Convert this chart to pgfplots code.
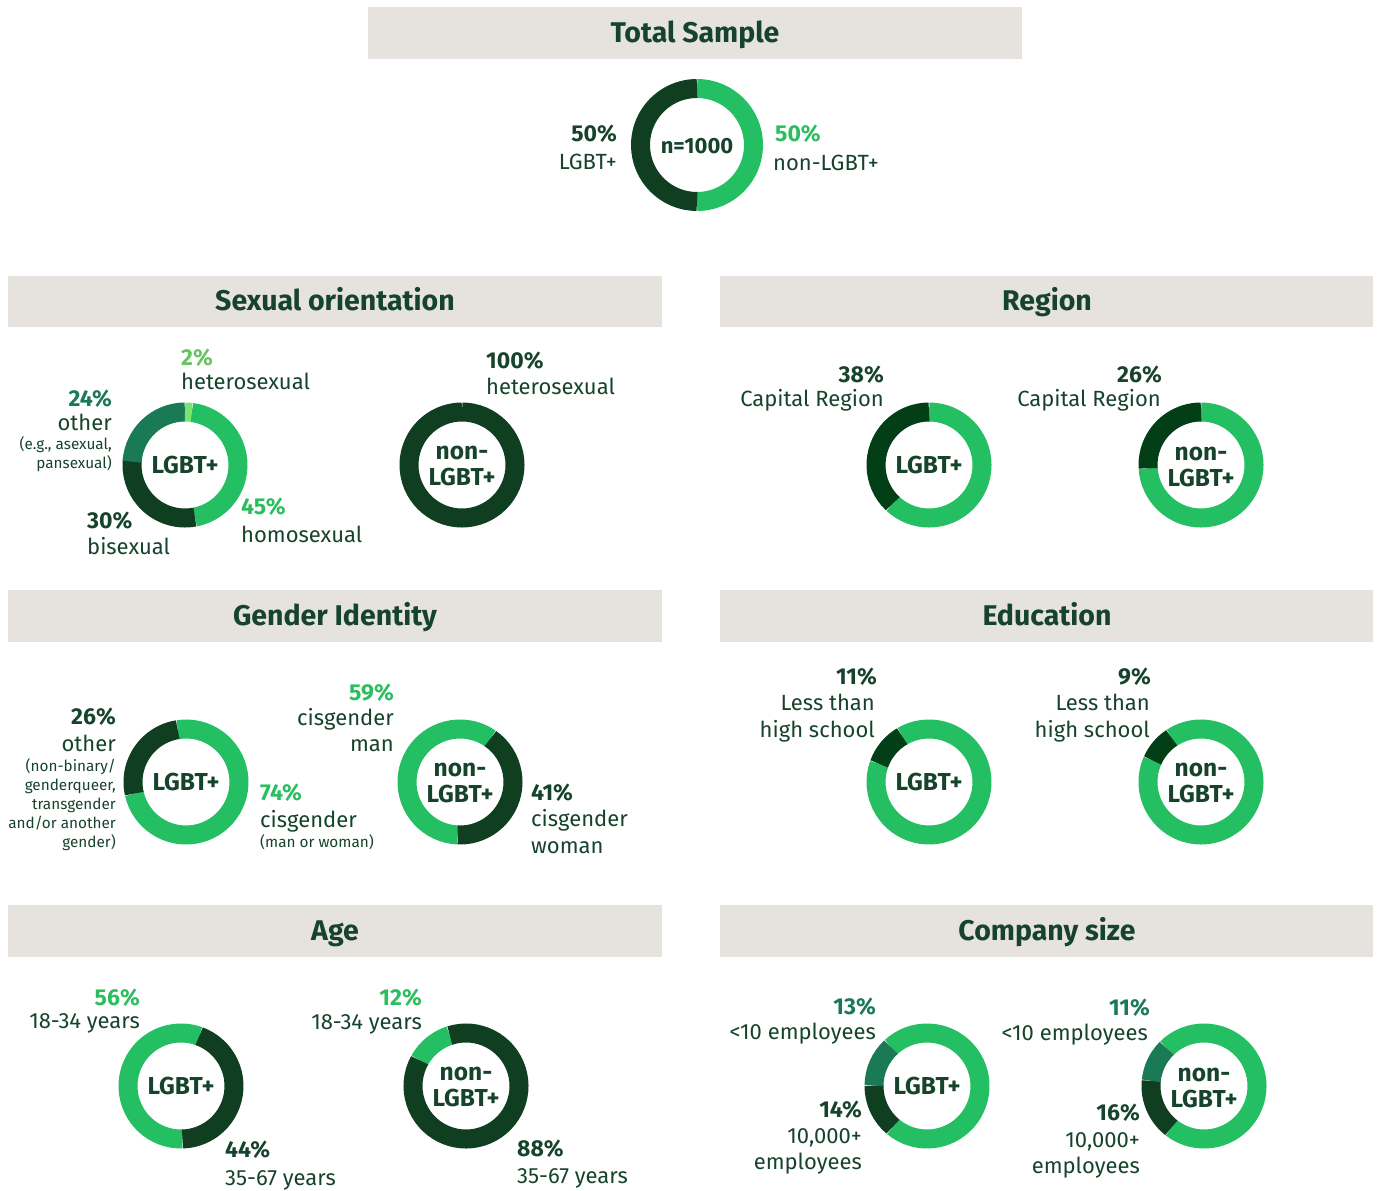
\documentclass[border=0pt]{standalone}
\usepackage{pgfplots}
\pgfplotsset{compat=1.18}
\usepackage{pgfplotstable}
\usepackage{fontspec}
\setmainfont{Fira Sans}

\definecolor{cLight}{HTML}{24BF62}
\definecolor{cDark}{HTML}{103E20}
\definecolor{cDarker}{HTML}{023E16}
\definecolor{cTeal}{HTML}{1A7A56}
\definecolor{cLime}{HTML}{78E66E}
\definecolor{cText}{HTML}{16432B}
\definecolor{cTLight}{HTML}{2BBE5F}
\definecolor{cHdr}{HTML}{E6E3DE}

% donut segment mark: start angle (clockwise from 12 o'clock) and percentage
\pgfdeclareplotmark{seg}{%
  \pgfmathsetmacro\segA{90-\segS}%
  \pgfmathsetmacro\segB{90-\segS-3.6*\segP}%
  \pgfpathmoveto{\pgfpointpolar{\segA}{\segR pt}}%
  \pgfpatharc{\segA}{\segB}{\segR pt}%
  \pgfusepathqstroke
}

% x y radius start percent
\pgfplotstableread{
x y r s p
697 145 56.5 0 50
185 465 53 7.2 45
929 465 53 0 62
1201 465 53 0 74
186 782 53 -9 74
460 782 53 182.6 59
929 782 53 329.6 89
1201 782 53 326.4 91
181 1086 53 178.4 56
466 1086 53 299 12
927 1086 53 317.2 73
1204 1086 53 315.2 73
}\tLight

\pgfplotstableread{
x y r s p
697 145 56.5 180 50
185 465 53 169.2 30
462 465 53 0 100
186 782 53 257.4 26
460 782 53 35 41
181 1086 53 20 44
466 1086 53 342.2 88
927 1086 53 220 14
1204 1086 53 218 16
}\tDark

\pgfplotstableread{
x y r s p
929 465 53 223.2 38
1201 465 53 266.4 26
929 782 53 290 11
1201 782 53 294 9
}\tDarker

\pgfplotstableread{
x y r s p
185 465 53 273.6 24
927 1086 53 270.4 13
1204 1086 53 275.6 11
}\tTeal

\pgfplotstableread{
x y r s p
185 465 53 0 2
}\tLime

\tikzset{
  hd/.style={font=\fontsize{28.5}{31}\selectfont\bfseries, text=cText, inner sep=0pt, yshift=-7pt},
  pc/.style={font=\fontsize{23}{26}\selectfont\bfseries, inner sep=0pt, yshift=-6pt},
  lb/.style={font=\fontsize{22}{25}\selectfont, text=cText, inner sep=0pt, yshift=-6pt},
  sm/.style={font=\fontsize{15.3}{18}\selectfont, text=cText, inner sep=0pt, yshift=-4pt},
  ct/.style={font=\fontsize{24.5}{27}\selectfont\bfseries, text=cText, inner sep=0pt, yshift=-6pt},
  R/.style={anchor=mid east},
  L/.style={anchor=mid west},
  C/.style={anchor=mid},
}

\pgfplotsset{
  donut/.style={only marks, mark=seg, mark options={line width=19pt, line cap=butt},
    visualization depends on={\thisrow{r}\as\segR},
    visualization depends on={\thisrow{s}\as\segS},
    visualization depends on={\thisrow{p}\as\segP}},
}

\begin{document}
\begin{tikzpicture}
\begin{axis}[width=1380pt, height=1189pt, scale only axis,
  xmin=0, xmax=1380, ymin=0, ymax=1189, y dir=reverse,
  hide axis, clip=false]

\path (axis cs:0,0) rectangle (axis cs:1380,1189);

% header bands
\fill[cHdr] (axis cs:368,7) rectangle (axis cs:1022,59);
\fill[cHdr] (axis cs:8,276) rectangle (axis cs:662,327);
\fill[cHdr] (axis cs:720,276) rectangle (axis cs:1373,327);
\fill[cHdr] (axis cs:8,590) rectangle (axis cs:662,642);
\fill[cHdr] (axis cs:720,590) rectangle (axis cs:1373,642);
\fill[cHdr] (axis cs:8,905) rectangle (axis cs:662,957);
\fill[cHdr] (axis cs:720,905) rectangle (axis cs:1373,957);

\addplot[donut, color=cLight] table[x=x,y=y] {\tLight};
\addplot[donut, color=cDark] table[x=x,y=y] {\tDark};
\addplot[donut, color=cDarker] table[x=x,y=y] {\tDarker};
\addplot[donut, color=cTeal] table[x=x,y=y] {\tTeal};
\addplot[donut, color=cLime] table[x=x,y=y] {\tLime};

% headers
\node[hd,C] at (axis cs:695,33) {Total Sample};
\node[hd,C] at (axis cs:335,301) {Sexual orientation};
\node[hd,C] at (axis cs:1047,301) {Region};
\node[hd,C] at (axis cs:335,616) {Gender Identity};
\node[hd,C] at (axis cs:1047,616) {Education};
\node[hd,C] at (axis cs:335,931) {Age};
\node[hd,C] at (axis cs:1047,931) {Company size};

% total sample
\node[ct,C,font=\fontsize{22}{25}\selectfont\bfseries] at (axis cs:697,145) {n=1000};
\node[pc,R,text=cText] at (axis cs:617,133) {50\%};
\node[lb,R] at (axis cs:617,161) {LGBT+};
\node[pc,L,text=cTLight] at (axis cs:775,133) {50\%};
\node[lb,L] at (axis cs:773,162) {non-LGBT+};

% sexual orientation
\node[ct,C] at (axis cs:185,465) {LGBT+};
\node[pc,L,text=cLime!85!black] at (axis cs:181,357) {2\%};
\node[lb,L] at (axis cs:181,381) {heterosexual};
\node[pc,R,text=cTeal] at (axis cs:112,398) {24\%};
\node[lb,R] at (axis cs:112,422) {other};
\node[sm,R] at (axis cs:112,443) {(e.g., asexual,};
\node[sm,R] at (axis cs:112,462) {pansexual)};
\node[pc,L,text=cTLight] at (axis cs:241,506) {45\%};
\node[lb,L] at (axis cs:241,534) {homosexual};
\node[pc,L,text=cText] at (axis cs:87,520) {30\%};
\node[lb,L] at (axis cs:87,546) {bisexual};
\node[ct,C] at (axis cs:462,451) {non-};
\node[ct,C] at (axis cs:462,477) {LGBT+};
\node[pc,L,text=cText] at (axis cs:486,360) {100\%};
\node[lb,L] at (axis cs:486,386) {heterosexual};

% region
\node[ct,C] at (axis cs:929,465) {LGBT+};
\node[ct,C] at (axis cs:1201,452) {non-};
\node[ct,C] at (axis cs:1201,478) {LGBT+};
\node[pc,R,text=cText] at (axis cs:884,374) {38\%};
\node[lb,R] at (axis cs:884,398) {Capital Region};
\node[pc,R,text=cText] at (axis cs:1162,374) {26\%};
\node[lb,R] at (axis cs:1161,398) {Capital Region};

% gender identity
\node[ct,C] at (axis cs:186,782) {LGBT+};
\node[ct,C] at (axis cs:460,768) {non-};
\node[ct,C] at (axis cs:460,794) {LGBT+};
\node[pc,R,text=cText] at (axis cs:116,716) {26\%};
\node[lb,R] at (axis cs:116,743) {other};
\node[sm,R] at (axis cs:116,765) {(non-binary/};
\node[sm,R] at (axis cs:116,784) {genderqueer,};
\node[sm,R] at (axis cs:116,803) {transgender};
\node[sm,R] at (axis cs:116,822) {and/or another};
\node[sm,R] at (axis cs:116,841) {gender)};
\node[pc,L,text=cTLight] at (axis cs:260,792) {74\%};
\node[lb,L] at (axis cs:260,819) {cisgender};
\node[sm,L] at (axis cs:260,841) {(man or woman)};
\node[pc,R,text=cTLight] at (axis cs:394,692) {59\%};
\node[lb,R] at (axis cs:394,717) {cisgender};
\node[lb,R] at (axis cs:394,743) {man};
\node[pc,L,text=cText] at (axis cs:531,792) {41\%};
\node[lb,L] at (axis cs:531,818) {cisgender};
\node[lb,L] at (axis cs:531,845) {woman};

% education
\node[ct,C] at (axis cs:929,782) {LGBT+};
\node[ct,C] at (axis cs:1201,768) {non-};
\node[ct,C] at (axis cs:1201,794) {LGBT+};
\node[pc,R,text=cText] at (axis cs:877,676) {11\%};
\node[lb,R] at (axis cs:875,702) {Less than};
\node[lb,R] at (axis cs:875,729) {high school};
\node[pc,R,text=cText] at (axis cs:1151,676) {9\%};
\node[lb,R] at (axis cs:1150,702) {Less than};
\node[lb,R] at (axis cs:1150,729) {high school};

% age
\node[ct,C] at (axis cs:181,1086) {LGBT+};
\node[ct,C] at (axis cs:466,1072) {non-};
\node[ct,C] at (axis cs:466,1098) {LGBT+};
\node[pc,R,text=cTLight] at (axis cs:140,997) {56\%};
\node[lb,R] at (axis cs:140,1020) {18-34 years};
\node[pc,R,text=cTLight] at (axis cs:422,997) {12\%};
\node[lb,R] at (axis cs:422,1021) {18-34 years};
\node[pc,L,text=cText] at (axis cs:225,1149) {44\%};
\node[lb,L] at (axis cs:225,1177) {35-67 years};
\node[pc,L,text=cText] at (axis cs:517,1148) {88\%};
\node[lb,L] at (axis cs:517,1175) {35-67 years};

% company size
\node[ct,C] at (axis cs:927,1086) {LGBT+};
\node[ct,C] at (axis cs:1204,1073) {non-};
\node[ct,C] at (axis cs:1204,1099) {LGBT+};
\node[pc,R,text=cTeal] at (axis cs:876,1006) {13\%};
\node[lb,R] at (axis cs:876,1031) {<10 employees};
\node[pc,R,text=cText] at (axis cs:862,1109) {14\%};
\node[lb,R] at (axis cs:862,1135) {10,000+};
\node[lb,R] at (axis cs:862,1161) {employees};
\node[pc,R,text=cTeal] at (axis cs:1150,1007) {11\%};
\node[lb,R] at (axis cs:1148,1032) {<10 employees};
\node[pc,R,text=cText] at (axis cs:1140,1112) {16\%};
\node[lb,R] at (axis cs:1140,1139) {10,000+};
\node[lb,R] at (axis cs:1140,1165) {employees};

\end{axis}
\end{tikzpicture}
\end{document}
